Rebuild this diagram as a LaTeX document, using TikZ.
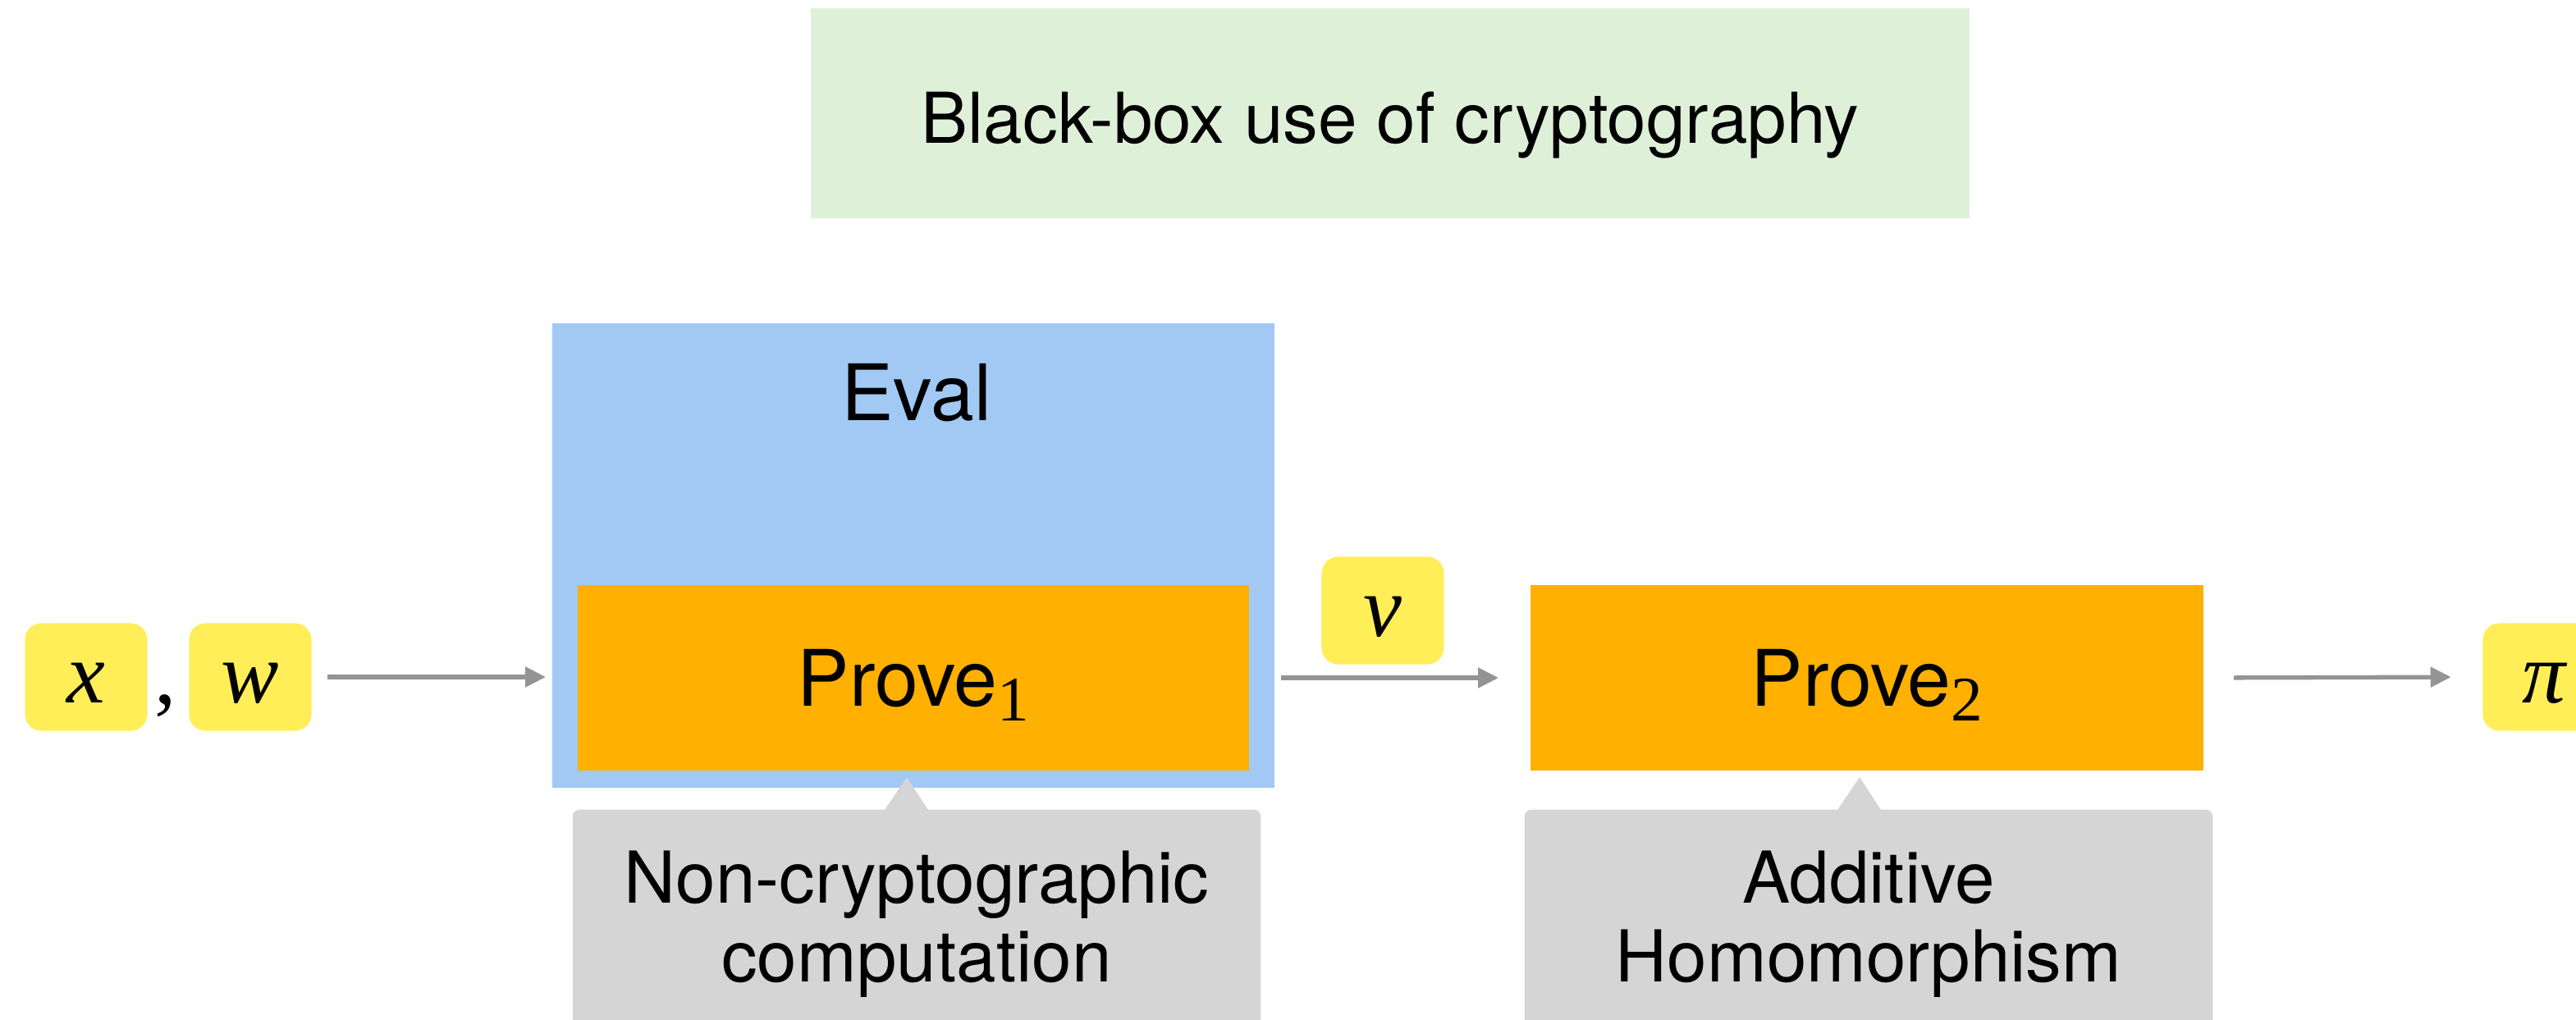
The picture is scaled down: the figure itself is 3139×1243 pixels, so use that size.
\documentclass[tikz,border=0pt]{standalone}
\usepackage{fontspec}
\setmainfont{TeX Gyre Heros}
\newfontfamily\varfont{Liberation Serif}
\usepackage{tikz}
\usetikzlibrary{arrows.meta,positioning}
\usepackage{xcolor}
\definecolor{bbgreen}{HTML}{DFF0D8}
\definecolor{evalblue}{HTML}{A1C9F4}
\definecolor{proveorange}{HTML}{FFB000}
\definecolor{varyellow}{HTML}{FFEE58}
\definecolor{notegray}{HTML}{D5D5D5}
\definecolor{flowgray}{HTML}{949494}
\newcommand{\vname}[1]{{\varfont\itshape #1}}
\newcommand{\idx}[1]{\raisebox{-0.18cm}{\fontsize{22}{22}\selectfont\varfont #1}}

\begin{document}
\begin{tikzpicture}[x=0.01cm,y=-0.01cm,
    box/.style={rectangle,inner sep=0pt,text depth=0pt},
    varbox/.style={box,fill=varyellow,rounded corners=0.2cm,minimum width=1.49cm,
      minimum height=1.31cm,text height=0.63cm,font=\fontsize{30}{30}\selectfont},
    provebox/.style={box,fill=proveorange,minimum width=8.2cm,minimum height=2.26cm,
      font=\fontsize{27}{32}\selectfont},
    note/.style={rectangle,fill=notegray,rounded corners=0.08cm,anchor=north,
      minimum width=8.38cm,inner ysep=0.5cm,align=center,
      font=\fontsize{24.8}{27.3}\selectfont},
    flow/.style={draw=flowgray,line width=1.5pt,-{Triangle[length=0.25cm,width=0.24cm]}}]
  \useasboundingbox (0,0) rectangle (3139,1243);
  \clip (0,0) rectangle (3139,1243);
  % header
  \node[box,fill=bbgreen,minimum width=14.12cm,minimum height=2.55cm,text height=0.73cm,
    font=\fontsize{24.3}{28}\selectfont] (bb) at (1694,138) {Black-box use of cryptography};
  % eval wraps prove_1
  \node[box,fill=evalblue,minimum width=8.8cm,minimum height=5.66cm] (eval) at (1113,677) {};
  \node[anchor=base,font=\fontsize{27}{32}\selectfont] (evallabel) at (1117,512) {Eval};
  \node[provebox,minimum width=8.18cm] (prove1) at (1113,826) {Prove\idx{1}};
  \node[provebox] (prove2) at (2275,826) {Prove\idx{2}};
  % values
  \node[varbox] (x) at (105,825) {\vname{x}};
  \node[varbox] (w) at (305,825) {\vname{w}};
  \node[anchor=base,font=\fontsize{30}{30}\selectfont] (comma) at (202,857) {\varfont ,};
  \node[varbox] (v) at (1685,744) {\vname{v}};
  \node[varbox] (pi) at (3100,825) {\vname{π}};
  \draw[flow,shorten <=0.19cm,shorten >=0.07cm] (w.east) -- (w.east -| eval.west);
  \draw[flow,shorten <=0.07cm,shorten >=0.38cm] (eval.east |- prove2.west) -- (prove2.west);
  \draw[flow,shorten <=0.36cm,shorten >=0.38cm] (prove2.east) -- (pi.west);
  % notes
  \node[note] (note1) at (1117,986) {Non-cryptographic\\computation};
  \node[note] (note2) at (2277,986) {Additive\\Homomorphism};
  \coordinate (tip1) at (1105,947);
  \coordinate (tip2) at (2266,947);
  \foreach \t in {tip1,tip2}
    \fill[notegray] (\t) -- ++(-27,40) -- ++(53,0) -- cycle;
\end{tikzpicture}
\end{document}
